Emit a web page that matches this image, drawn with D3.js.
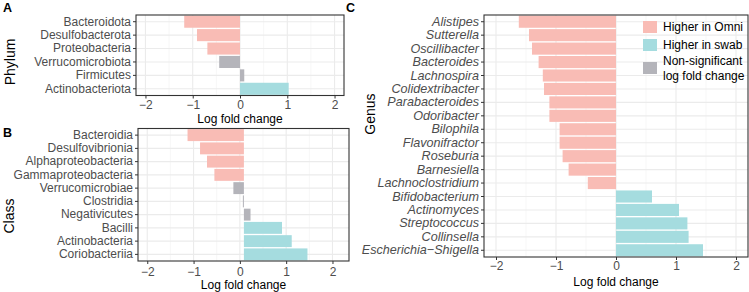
<!DOCTYPE html>
<html>
<head>
<meta charset="utf-8" />
<title>Log fold change by taxon</title>
<style>
html, body {
    margin: 0px;
    padding: 0px;
    background: #ffffff;
}
svg {
    display: block;
    font-family: "Liberation Sans", Arial, sans-serif;
}
</style>
</head>
<body>
<svg id="chart" width="749" height="292"></svg>

<script src="https://d3js.org/d3.v7.min.js"></script>
<script>
// values
var phylum = ["Bacteroidota", "Desulfobacterota", "Proteobacteria", "Verrucomicrobiota", "Firmicutes", "Actinobacteriota"]
var phylumLfc = [-1.18, -0.91, -0.69, -0.44, 0.09, 1.03]
var phylumSig = [1, 1, 1, 0, 0, 1]

var klass = ["Bacteroidia", "Desulfovibrionia", "Alphaproteobacteria", "Gammaproteobacteria", "Verrucomicrobiae",
             "Clostridia", "Negativicutes", "Bacilli", "Actinobacteria", "Coriobacteriia"]
var klassLfc = [-1.13, -0.86, -0.71, -0.55, -0.14, 0.065, 0.23, 0.91, 1.12, 1.46]
var klassSig = [1, 1, 1, 1, 0, 0, 0, 1, 1, 1]

var genus = ["Alistipes", "Sutterella", "Oscillibacter", "Bacteroides", "Lachnospira", "Colidextribacter",
             "Parabacteroides", "Odoribacter", "Bilophila", "Flavonifractor", "Roseburia", "Barnesiella",
             "Lachnoclostridium", "Bifidobacterium", "Actinomyces", "Streptococcus", "Collinsella", "Escherichia\u2212Shigella"]
var genusLfc = [-1.62, -1.45, -1.40, -1.29, -1.22, -1.20, -1.11, -1.11, -0.94, -0.94, -0.89, -0.79,
                -0.47, 0.60, 1.05, 1.19, 1.21, 1.45]
var genusSig = [1, 1, 1, 1, 1, 1, 1, 1, 1, 1, 1, 1, 1, 1, 1, 1, 1, 1]

var xTicks = [-2, -1, 0, 1, 2]
var xMinor = [-1.5, -0.5, 0.5, 1.5]
var legendLabels = [["Higher in Omni"], ["Higher in swab"], ["Non-significant", "log fold change"]]

var colors = {omni: "#F9BCB5", swab: "#A5DCDF", ns: "#B4B4BA"}
var font = "'Liberation Sans', Arial, sans-serif"

var svg = d3.select("#chart")

drawPanel({
    names: phylum, lfc: phylumLfc, sig: phylumSig, base: 0,
    left: 136, right: 344, top: 15, bottom: 95.5, domain: [-2.2, 2.2],
    tickPad: 1.5, xTitleOff: 27, tickFont: 12,
    title: "Phylum", titleX: 15, titleY: 62, letter: "A", letterX: 3, letterY: 12
})

drawPanel({
    names: klass, lfc: klassLfc, sig: klassSig, base: 0.087,
    left: 138, right: 349, top: 128.5, bottom: 261, domain: [-2.2, 2.357],
    tickPad: 3, xTitleOff: 28, tickFont: 12,
    title: "Class", titleX: 14, titleY: 216, letter: "B", letterX: 3, letterY: 137
})

drawPanel({
    names: genus, lfc: genusLfc, sig: genusSig, base: 0, italic: true,
    left: 484, right: 748, top: 15, bottom: 257, domain: [-2.2, 2.2],
    tickPad: 1.5, xTitleOff: 29, tickFont: 12.6,
    title: "Genus", titleX: 375, titleY: 114, letter: "C", letterX: 346, letterY: 12
})

drawLegend(643, [27, 45, 68])

function group(v, s) {
    if (!s) return "ns"
    return v < 0 ? "omni" : "swab"
}

function drawPanel(o) {
    var x = d3.scaleLinear().domain(o.domain).range([o.left, o.right])
    var y = d3.scaleBand().domain(o.names).range([o.top, o.bottom]).paddingInner(0.1).paddingOuter(0.05)
    var g = svg.append("g")

    // grid
    g.selectAll(".minor").data(xMinor).enter().append("line")
        .attr("x1", d => x(d)).attr("x2", d => x(d))
        .attr("y1", o.top).attr("y2", o.bottom)
        .attr("stroke", "#F2F2F2").attr("stroke-width", 0.6)
    g.selectAll(".major").data(xTicks).enter().append("line")
        .attr("x1", d => x(d)).attr("x2", d => x(d))
        .attr("y1", o.top).attr("y2", o.bottom)
        .attr("stroke", "#EBEBEB").attr("stroke-width", 1.1)
    g.selectAll(".hgrid").data(o.names).enter().append("line")
        .attr("x1", o.left).attr("x2", o.right)
        .attr("y1", d => y(d) + y.bandwidth() / 2).attr("y2", d => y(d) + y.bandwidth() / 2)
        .attr("stroke", "#EBEBEB").attr("stroke-width", 1.1)

    // bars
    g.selectAll(".bar").data(o.names).enter().append("rect")
        .attr("x", (d, i) => Math.min(x(o.lfc[i]), x(o.base)))
        .attr("width", (d, i) => Math.max(Math.abs(x(o.lfc[i]) - x(o.base)), 1))
        .attr("y", d => y(d))
        .attr("height", y.bandwidth())
        .attr("fill", (d, i) => colors[group(o.lfc[i], o.sig[i])])

    // border
    g.append("rect")
        .attr("x", o.left).attr("y", o.top)
        .attr("width", o.right - o.left).attr("height", o.bottom - o.top)
        .attr("fill", "none").attr("stroke", "#333333").attr("stroke-width", 1.1)

    // axes
    var ya = g.append("g").attr("transform", "translate(" + o.left + ",0)")
        .call(d3.axisLeft(y).tickSize(3).tickPadding(2))
    var xa = g.append("g").attr("transform", "translate(0," + o.bottom + ")")
        .call(d3.axisBottom(x).tickValues(xTicks).tickSize(3).tickPadding(o.tickPad).tickFormat(d3.format("d")))
    ;[ya, xa].forEach(function(a) {
        a.select(".domain").remove()
        a.selectAll(".tick line").attr("stroke", "#333333").attr("stroke-width", 1)
        a.selectAll("text").attr("fill", "#4D4D4D").style("font-size", "12px").style("font-family", font)
    })
    ya.selectAll("text").style("font-size", o.tickFont + "px")
    if (o.italic) ya.selectAll("text").style("font-style", "italic")

    g.append("text")
        .attr("x", (o.left + o.right) / 2).attr("y", o.bottom + o.xTitleOff)
        .attr("text-anchor", "middle").style("font-size", "12px").style("font-family", font)
        .text("Log fold change")

    g.append("text")
        .attr("transform", "translate(" + o.titleX + "," + o.titleY + ") rotate(-90)")
        .attr("text-anchor", "middle").style("font-size", "14px").style("font-family", font)
        .text(o.title)

    g.append("text")
        .attr("x", o.letterX).attr("y", o.letterY)
        .style("font-size", "12.5px").style("font-weight", "bold").style("font-family", font)
        .text(o.letter)
}

function drawLegend(lx, ys) {
    var keys = ["omni", "swab", "ns"]
    var lg = svg.append("g")
    keys.forEach(function(k, i) {
        lg.append("rect")
            .attr("x", lx).attr("y", ys[i] - 6)
            .attr("width", 14).attr("height", 12)
            .attr("fill", colors[k])
        var lines = legendLabels[i]
        lines.forEach(function(t, j) {
            lg.append("text")
                .attr("x", lx + 20)
                .attr("y", ys[i] + 4.3 + (j - (lines.length - 1) / 2) * 15)
                .style("font-size", "12px").style("font-family", font)
                .text(t)
        })
    })
}
</script>
</body>
</html>
